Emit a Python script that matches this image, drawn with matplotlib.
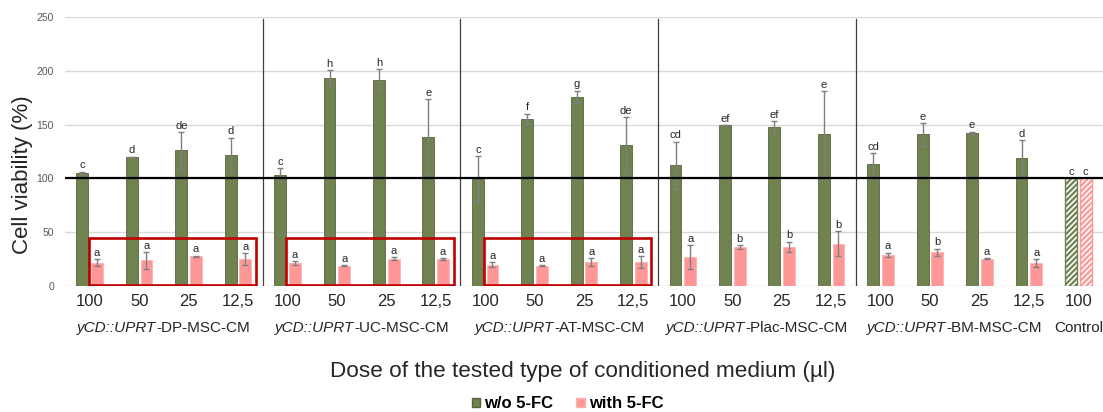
import matplotlib
matplotlib.use("Agg")
import matplotlib.pyplot as plt
import numpy as np
from matplotlib.patches import Rectangle, Patch
from matplotlib.offsetbox import TextArea, HPacker, AnnotationBbox
from matplotlib.transforms import blended_transform_factory

plt.rcParams["font.family"] = ["Liberation Sans", "DejaVu Sans"]

# ---- data ----
doses = ["100", "50", "25", "12,5"] * 5 + ["100"]
group_names = ["DP", "UC", "AT", "Plac", "BM"]

without_5fc = [105, 120, 126, 122,
               103.5, 193.5, 191.5, 138.5,
               99, 155.5, 176, 131,
               112, 149.5, 147.5, 141.5,
               113, 141, 142.5, 119,
               100]
without_err = [1, 0, 17, 16,
               6, 7, 10, 35,
               21.5, 4.5, 5.5, 26,
               22, 0, 5.5, 39.5,
               10.5, 10.5, 1, 16.5,
               0]
with_5fc = [21.5, 23.5, 27.5, 24.5,
            21, 18.5, 25, 24.5,
            19.5, 18.5, 22, 22,
            26.5, 36, 36, 39,
            28.5, 31, 25, 21,
            100]
with_err = [3, 7.5, 0.5, 5.5,
            2, 0.5, 1.5, 1,
            2.5, 0.5, 3.5, 5.5,
            11, 1.5, 5, 11.5,
            2, 3.5, 0.5, 3.5,
            0]
letters_without = ["c", "d", "de", "d",
                   "c", "h", "h", "e",
                   "c", "f", "g", "de",
                   "cd", "ef", "ef", "e",
                   "cd", "e", "e", "d",
                   "c"]
letters_with = ["a", "a", "a", "a",
                "a", "a", "a", "a",
                "a", "a", "a", "a",
                "a", "b", "b", "b",
                "a", "b", "a", "a",
                "c"]

GREEN = "#6F8250"
GREEN_EDGE = "#56663C"
PINK = "#FF9797"
PINK_EDGE = "#FFB3B3"
ERR = "#7F7F7F"
TXT = "#262626"

W, H = 1103, 412
fig = plt.figure(figsize=(W / 100, H / 100), dpi=100)
ax = fig.add_axes([65 / W, (H - 285.7) / H, (W - 65) / W, (285.7 - 17.3) / H])

n = len(doses)
x = np.arange(n)
bw = 0.24
off = 0.148

# bars (last pair is the hatched control)
ax.bar(x[:-1] - off, without_5fc[:-1], bw, color=GREEN, edgecolor=GREEN_EDGE, lw=0.6, zorder=3)
ax.bar(x[:-1] + off, with_5fc[:-1], bw, color=PINK, edgecolor=PINK_EDGE, lw=0.6, zorder=3)
plt.rcParams["hatch.linewidth"] = 1.6
ax.bar(x[-1] - off, without_5fc[-1], bw, color="white", edgecolor=GREEN, hatch="//////", lw=1.0, zorder=3)
ax.bar(x[-1] + off, with_5fc[-1], bw, color="white", edgecolor=PINK, hatch="//////", lw=1.0, zorder=3)

# error bars
ax.errorbar(x[:-1] - off, without_5fc[:-1], yerr=without_err[:-1], fmt="none",
            ecolor=ERR, elinewidth=1, capsize=2.5, capthick=1, zorder=4)
ax.errorbar(x[:-1] + off, with_5fc[:-1], yerr=with_err[:-1], fmt="none",
            ecolor=ERR, elinewidth=1, capsize=2.5, capthick=1, zorder=4)

# significance letters
for i in range(n):
    ax.annotate(letters_without[i], (x[i] - off, without_5fc[i] + without_err[i]),
                xytext=(0, 2.5), textcoords="offset points", ha="center", va="baseline",
                fontsize=8, color=TXT, zorder=6)
    ax.annotate(letters_with[i], (x[i] + off, with_5fc[i] + with_err[i]),
                xytext=(0, 2.5), textcoords="offset points", ha="center", va="baseline",
                fontsize=8, color=TXT, zorder=6)

# reference line at 100 %
ax.axhline(100, color="black", lw=1.6, zorder=5)

# group separators
for s in [3.5, 7.5, 11.5, 15.5]:
    ax.axvline(s, ymin=0, ymax=0.994, color="#404040", lw=0.9, zorder=2)

# boxes around the first three 5-FC series
for g in range(3):
    ax.add_patch(Rectangle((g * 4 - 0.02, 0.6), 3.38, 44.2, fill=False,
                           edgecolor="#C00000", lw=1.9, zorder=7))

# axes styling
ax.set_xlim(-0.5, n - 0.5)
ax.set_ylim(0, 250)
ax.set_yticks([0, 50, 100, 150, 200, 250])
ax.tick_params(axis="y", length=0, pad=8, labelsize=7.5, labelcolor="#595959")
ax.set_xticks(x)
ax.set_xticklabels(doses, fontsize=12, color=TXT)
ax.tick_params(axis="x", length=0, pad=6)
ax.yaxis.grid(True, color="#D9D9D9", lw=1)
ax.set_axisbelow(True)
for sp in ax.spines.values():
    sp.set_visible(False)

fig.text(23 / W, 1 - 175 / H, "Cell viability (%)", rotation=90, ha="center", va="center",
         fontsize=16, color=TXT)

# group labels under the dose ticks
tr = blended_transform_factory(ax.transData, ax.transAxes)
gy = (285.7 - 328) / 268.4
for g, name in enumerate(group_names):
    box = HPacker(children=[
        TextArea("yCD::UPRT", textprops=dict(style="italic", fontsize=11, color=TXT)),
        TextArea(f"-{name}-MSC-CM", textprops=dict(fontsize=11, color=TXT)),
    ], sep=0, pad=0, align="baseline")
    ab = AnnotationBbox(box, (g * 4 + 1.5, gy), xycoords=tr, frameon=False,
                        box_alignment=(0.5, 0.5), annotation_clip=False)
    ax.add_artist(ab)
ax.text(n - 1, gy, "Control", transform=tr, ha="center", va="center",
        fontsize=11, color=TXT)

fig.text(583 / W, 1 - 372 / H, "Dose of the tested type of conditioned medium (µl)",
         ha="center", va="center", fontsize=16.2, color=TXT)

handles = [Patch(facecolor=GREEN, edgecolor=GREEN_EDGE, label="w/o 5-FC"),
           Patch(facecolor=PINK, edgecolor=PINK_EDGE, label="with 5-FC")]
fig.legend(handles=handles, loc="center", bbox_to_anchor=(567.5 / W, 1 - 404 / H), ncol=2,
           frameon=False, handlelength=0.5, handleheight=0.5, handletextpad=0.25,
           columnspacing=1.4, borderpad=0, prop=dict(weight="bold", size=12))

fig.savefig("out.png", dpi=100)
